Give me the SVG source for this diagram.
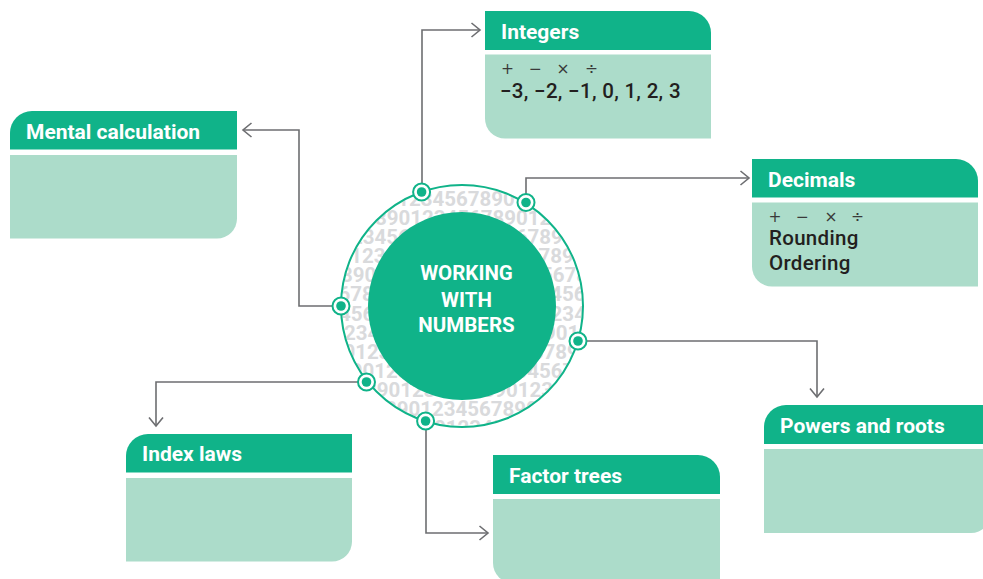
<svg xmlns="http://www.w3.org/2000/svg" width="983" height="579" viewBox="0 0 983 579">
  <style>
    .hdr { fill: #10b389; }
    .body { fill: #acdcca; }
    .title { font-family: Roboto, "Liberation Sans", sans-serif; font-weight: 700; font-size: 21px; fill: #ffffff; }
    .ops { font-family: "DejaVu Sans", "Liberation Sans", sans-serif; font-weight: 400; font-size: 15.5px; fill: #3a3a3a; text-anchor: middle; }
    .txt { font-family: Roboto, "Liberation Sans", sans-serif; font-weight: 500; font-size: 20.5px; letter-spacing: 0.3px; fill: #231f20; }
    .digits { font-family: Roboto, "Liberation Sans", sans-serif; font-weight: 700; font-size: 20.5px; fill: #d9dadc; }
    .centre { font-family: Roboto, "Liberation Sans", sans-serif; font-weight: 700; font-size: 20.5px; fill: #ffffff; text-anchor: middle; }
    .conn { fill: none; stroke: #6d6e71; stroke-width: 1.6; }
    .port-ring { fill: #ffffff; stroke: #10b389; stroke-width: 2; }
    .port-dot { fill: #10b389; }
  </style>
  <defs>
    <marker id="chev" markerUnits="userSpaceOnUse" markerWidth="20" markerHeight="20" refX="10" refY="10" orient="auto" viewBox="0 0 20 20">
      <path d="M1.5,3 L10,10 L1.5,17" fill="none" stroke="#6d6e71" stroke-width="1.6"/>
    </marker>
    <clipPath id="ringClip">
      <circle cx="462" cy="306" r="120"/>
    </clipPath>
  </defs>

  <!-- hub: digit-textured ring with solid centre -->
  <g id="hub">
    <g clip-path="url(#ringClip)" class="digits">
      <text x="162" y="206">123456789012345678901234567890123456789012345678901234567890</text>
      <text x="175" y="225">123456789012345678901234567890123456789012345678901234567890</text>
      <text x="104" y="244">123456789012345678901234567890123456789012345678901234567890</text>
      <text x="115" y="263">123456789012345678901234567890123456789012345678901234567890</text>
      <text x="141" y="282">123456789012345678901234567890123456789012345678901234567890</text>
      <text x="162" y="301">123456789012345678901234567890123456789012345678901234567890</text>
      <text x="186" y="320.5">123456789012345678901234567890123456789012345678901234567890</text>
      <text x="97" y="339.5">123456789012345678901234567890123456789012345678901234567890</text>
      <text x="120" y="358.5">123456789012345678901234567890123456789012345678901234567890</text>
      <text x="139" y="377.5">123456789012345678901234567890123456789012345678901234567890</text>
      <text x="165" y="396.5">123456789012345678901234567890123456789012345678901234567890</text>
      <text x="185" y="415.5">123456789012345678901234567890123456789012345678901234567890</text>
      <text x="93" y="434.5">123456789012345678901234567890123456789012345678901234567890</text>
    </g>
    <circle cx="462" cy="306" r="121" fill="none" stroke="#10b389" stroke-width="2"/>
    <circle cx="462" cy="306" r="94" fill="#10b389"/>
    <text class="centre" x="466.5" y="280">WORKING</text>
    <text class="centre" x="466.5" y="306.5">WITH</text>
    <text class="centre" x="466.5" y="332">NUMBERS</text>
  </g>

  <!-- connectors -->
  <g id="connectors">
    <polyline class="conn" points="422,192 422,30 480,30" marker-end="url(#chev)"/>
    <polyline class="conn" points="526,203 526,178 749,178" marker-end="url(#chev)"/>
    <polyline class="conn" points="341,306 299,306 299,130 243,130" marker-end="url(#chev)"/>
    <polyline class="conn" points="578,341 817,341 817,397" marker-end="url(#chev)"/>
    <polyline class="conn" points="367,382 156,382 156,426" marker-end="url(#chev)"/>
    <polyline class="conn" points="426,421 426,533 488,533" marker-end="url(#chev)"/>
  </g>

  <!-- connection ports on the ring -->
  <g id="ports">
    <circle class="port-ring" cx="421.6" cy="192" r="8.5"/><circle class="port-dot" cx="421.6" cy="192" r="4.8"/>
    <circle class="port-ring" cx="526" cy="202.5" r="8.5"/><circle class="port-dot" cx="526" cy="202.5" r="4.8"/>
    <circle class="port-ring" cx="341" cy="306" r="8.5"/><circle class="port-dot" cx="341" cy="306" r="4.8"/>
    <circle class="port-ring" cx="578" cy="341" r="8.5"/><circle class="port-dot" cx="578" cy="341" r="4.8"/>
    <circle class="port-ring" cx="366.5" cy="382" r="8.5"/><circle class="port-dot" cx="366.5" cy="382" r="4.8"/>
    <circle class="port-ring" cx="425.6" cy="421" r="8.5"/><circle class="port-dot" cx="425.6" cy="421" r="4.8"/>
  </g>

  <g id="integers">
    <path class="hdr" d="M485,11 H689 A22,22 0 0 1 711,33 V50 H485 Z"/>
    <path class="body" d="M485,54.5 H711 V138.5 H505 A20,20 0 0 1 485,118.5 Z"/>
    <text class="title" x="501" y="39">Integers</text>
    <text class="ops" x="507.5" y="73.5">+</text>
    <text class="ops" x="535.5" y="73.5">−</text>
    <text class="ops" x="563" y="73.5">×</text>
    <text class="ops" x="591.5" y="73.5">÷</text>
    <text class="txt" x="500" y="98">−3, −2, −1, 0, 1, 2, 3</text>
  </g>

  <g id="decimals">
    <path class="hdr" d="M752,159 H956 A22,22 0 0 1 978,181 V197.5 H752 Z"/>
    <path class="body" d="M752,202.5 H978 V286.5 H772 A20,20 0 0 1 752,266.5 Z"/>
    <text class="title" x="768" y="187">Decimals</text>
    <text class="ops" x="775" y="221.5">+</text>
    <text class="ops" x="802.5" y="221.5">−</text>
    <text class="ops" x="831" y="221.5">×</text>
    <text class="ops" x="857.5" y="221.5">÷</text>
    <text class="txt" x="769" y="245">Rounding</text>
    <text class="txt" x="769" y="270">Ordering</text>
  </g>

  <g id="mental-calculation">
    <path class="hdr" d="M32,111 H237 V149.5 H10 V133 A22,22 0 0 1 32,111 Z"/>
    <path class="body" d="M10,155 H237 V218.5 A20,20 0 0 1 217,238.5 H10 Z"/>
    <text class="title" x="26" y="139">Mental calculation</text>
  </g>

  <g id="index-laws">
    <path class="hdr" d="M148,434 H352 V472.5 H126 V456 A22,22 0 0 1 148,434 Z"/>
    <path class="body" d="M126,478 H352 V541.5 A20,20 0 0 1 332,561.5 H126 Z"/>
    <text class="title" x="142" y="461">Index laws</text>
  </g>

  <g id="factor-trees">
    <path class="hdr" d="M493,455 H698 A22,22 0 0 1 720,477 V494 H493 Z"/>
    <path class="body" d="M493,499 H720 V583 H513 A20,20 0 0 1 493,563 Z"/>
    <text class="title" x="509" y="483">Factor trees</text>
  </g>

  <g id="powers-and-roots">
    <path class="hdr" d="M786,405 H991 V444 H764 V427 A22,22 0 0 1 786,405 Z"/>
    <path class="body" d="M764,449 H991 V513 A20,20 0 0 1 971,533 H764 Z"/>
    <text class="title" x="780" y="433">Powers and roots</text>
  </g>
</svg>
